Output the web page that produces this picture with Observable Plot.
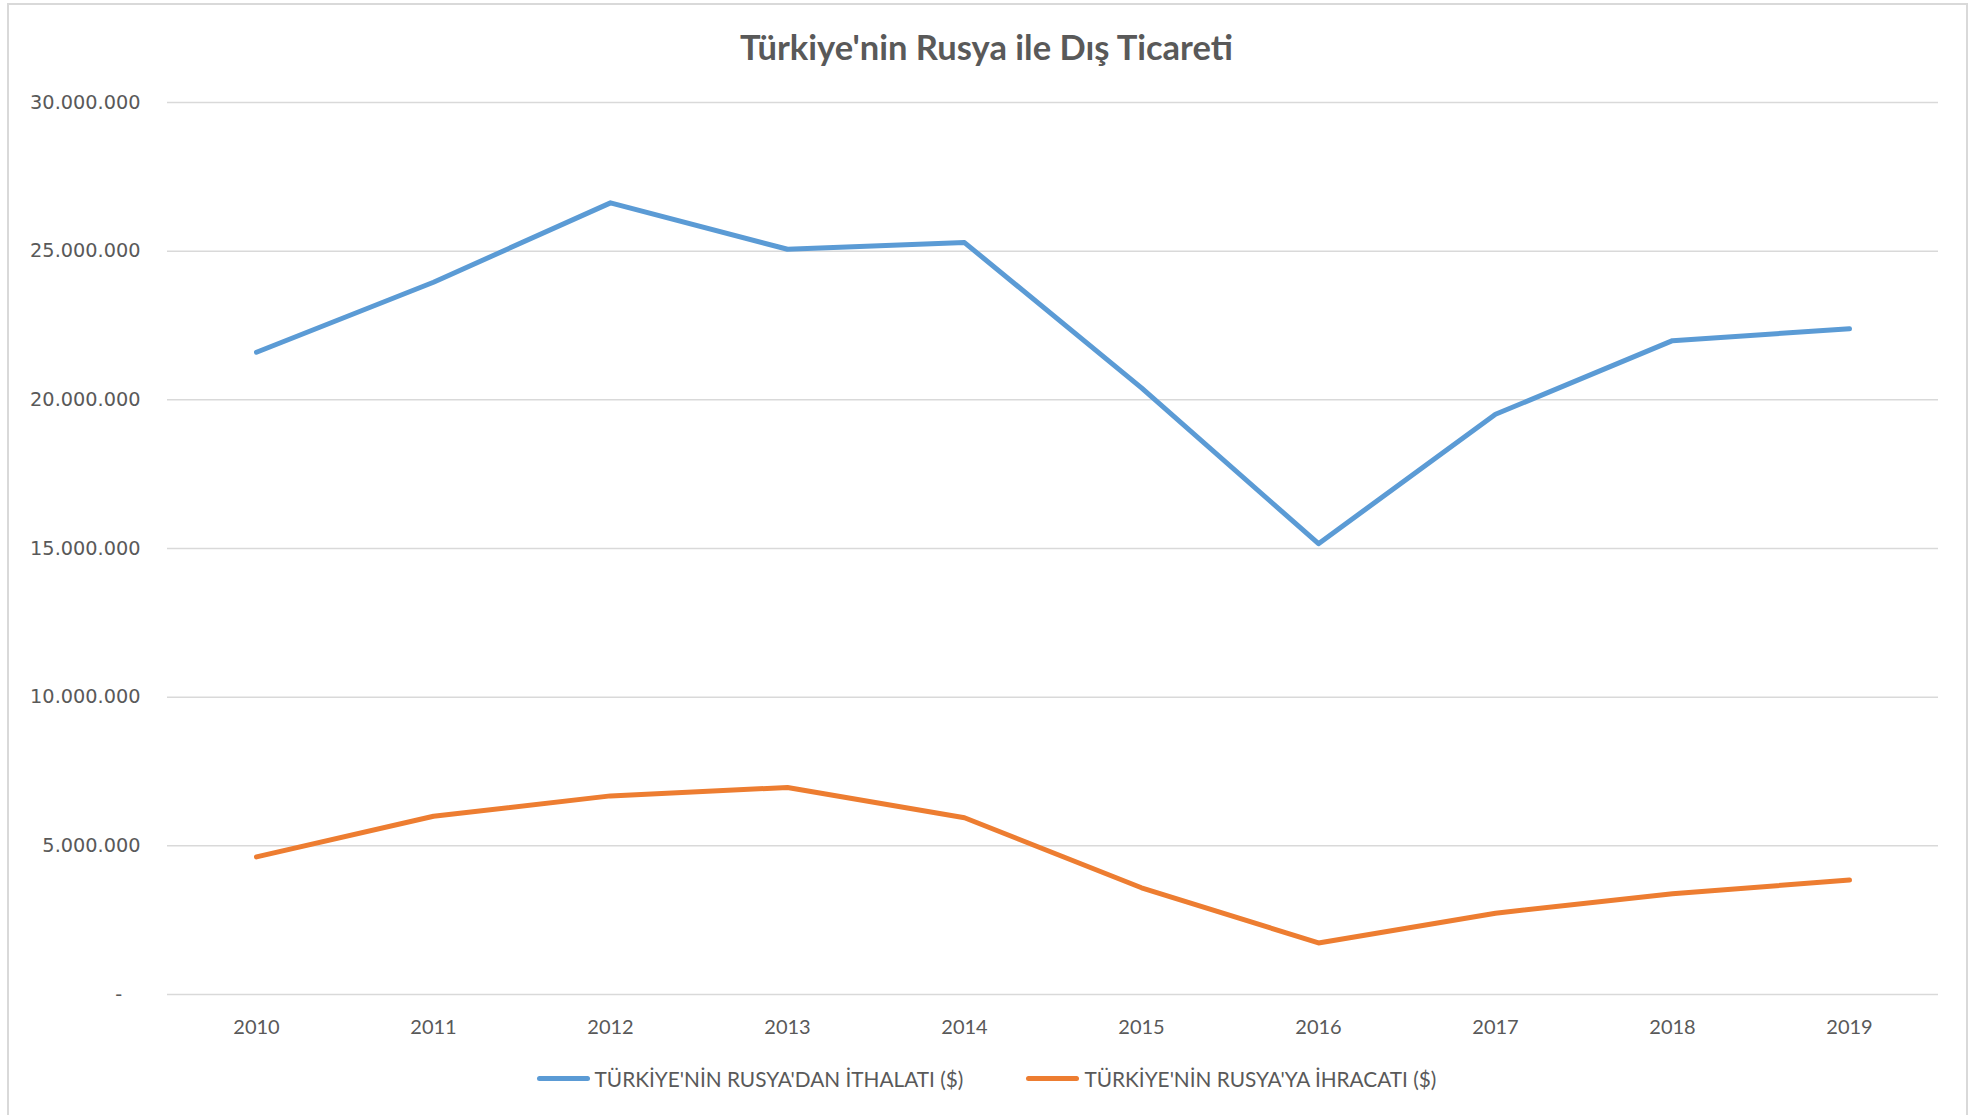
<!DOCTYPE html>
<html>
<head>
<meta charset="utf-8">
<script src="https://cdn.jsdelivr.net/npm/d3@7"></script>
<script src="https://cdn.jsdelivr.net/npm/@observablehq/plot@0.6"></script>
<style>
  html, body { margin: 0; padding: 0; background: #fff; overflow: hidden; }
  #frame { position: absolute; left: 0; top: 0; width: 1973px; height: 1115px; overflow: hidden; }
  #border { position: absolute; left: 7px; top: 3px; width: 1961px; height: 1125px; border: 2px solid #d9d9d9; box-sizing: border-box; }
  #title { position: absolute; left: 0; width: 1973px; top: 26px; text-align: center;
           font-family: Lato, sans-serif; font-weight: bold; font-size: 34.5px; color: #595959; }
  #chart { position: absolute; left: 0; top: 0; }
  #legend { position: absolute; left: 0; width: 1973px; top: 1066px; display: flex; justify-content: center; gap: 63px;
            font-family: Lato, sans-serif; font-size: 20.8px; color: #595959; }
  .item { display: flex; align-items: center; gap: 5px; }
  .sw { width: 53px; height: 5px; border-radius: 3px; display: inline-block; }
</style>
</head>
<body>
<div id="frame">
  <div id="border"></div>
  <div id="title">Türkiye'nin Rusya ile Dış Ticareti</div>
  <div id="chart"></div>
  <div id="legend"></div>
</div>
<script>
const years = ["2010","2011","2012","2013","2014","2015","2016","2017","2018","2019"];
const imports = [21601000, 23953000, 26625000, 25064000, 25289000, 20402000, 15162000, 19514000, 21990000, 22390000];
const exports = [4628000, 5993000, 6680000, 6964000, 5944000, 3589000, 1733000, 2735000, 3390000, 3850000];
const seriesNames = ["TÜRKİYE'NİN RUSYA'DAN İTHALATI ($)", "TÜRKİYE'NİN RUSYA'YA İHRACATI ($)"];
const seriesColors = ["#5b9bd5", "#ed7d31"];
const yTicks = [0, 5000000, 10000000, 15000000, 20000000, 25000000, 30000000];

const importRows = years.map((y, i) => ({year: y, value: imports[i]}));
const exportRows = years.map((y, i) => ({year: y, value: exports[i]}));

const fmt = d => d === 0 ? "-\u00a0\u00a0\u00a0" : d3.format(",")(d).replace(/,/g, ".");

const H = 1040;
const chart = Plot.plot({
  width: 1973,
  height: H,
  marginLeft: 167,
  marginRight: 35,
  marginTop: 102,
  marginBottom: H - 994,
  style: {background: "transparent", overflow: "visible"},
  x: {type: "point", domain: years, padding: 0.5, label: null},
  y: {domain: [0, 30000000], label: null},
  marks: [
    Plot.gridY(yTicks, {stroke: "#d9d9d9", strokeOpacity: 1, strokeWidth: 1.5}),
    Plot.axisY(yTicks, {tickSize: 0, tickPadding: 27, tickFormat: fmt, fontSize: 19.3, fill: "#595959",
                        fontFamily: "DejaVu Sans, sans-serif", label: null}),
    Plot.axisX({tickSize: 0, tickPadding: 25, fontSize: 20, fill: "#595959", fontFamily: "Lato, sans-serif", label: null}),
    Plot.line(importRows, {x: "year", y: "value", stroke: seriesColors[0], strokeWidth: 5, strokeLinecap: "round", strokeLinejoin: "round"}),
    Plot.line(exportRows, {x: "year", y: "value", stroke: seriesColors[1], strokeWidth: 5, strokeLinecap: "round", strokeLinejoin: "round"})
  ]
});
document.getElementById("chart").appendChild(chart);

const legend = document.getElementById("legend");
seriesNames.forEach((n, i) => {
  const it = document.createElement("div");
  it.className = "item";
  it.innerHTML = `<span class="sw" style="background:${seriesColors[i]}"></span><span>${n}</span>`;
  legend.appendChild(it);
});
</script>
</body>
</html>
